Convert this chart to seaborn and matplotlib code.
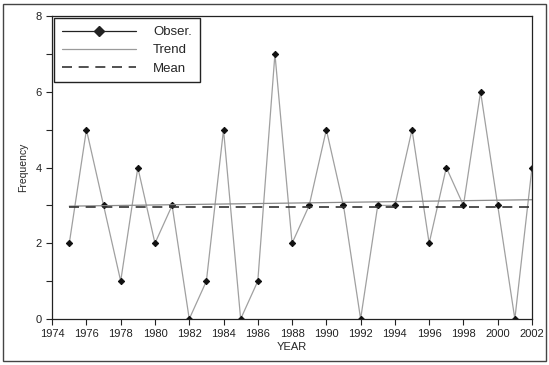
import numpy as np
import pandas as pd
import matplotlib
matplotlib.use("Agg")
import matplotlib.pyplot as plt
import seaborn as sns
from matplotlib.lines import Line2D
from matplotlib.patches import Rectangle

years = list(range(1975, 2003))
freq = [2, 5, 3, 1, 4, 2, 3, 0, 1, 5, 0, 1, 7, 2, 3, 5, 3, 0, 3, 3, 5, 2, 4, 3, 6, 3, 0, 4]
trend_ends = [2.98, 3.15]
mean_value = 2.95

sns.set_style("ticks")
plt.rcParams['font.family'] = ['Liberation Sans', 'DejaVu Sans']

df = pd.DataFrame({"YEAR": years, "Frequency": freq})
line_df = pd.DataFrame({
    "YEAR": [years[0], years[-1]],
    "trend": trend_ends,
    "mean": [mean_value, mean_value],
})

fig = plt.figure(figsize=(5.49, 3.65), dpi=100)
ax = fig.add_axes([0.095, 0.126, 0.874, 0.83])

sns.lineplot(data=df, x="YEAR", y="Frequency", ax=ax, color="#a0a0a0", lw=0.9,
             marker="D", markersize=3.2, markerfacecolor="#111111",
             markeredgecolor="#111111", legend=False)
sns.lineplot(data=line_df, x="YEAR", y="trend", ax=ax, color="#8a8a8a", lw=0.9, legend=False)
sns.lineplot(data=line_df, x="YEAR", y="mean", ax=ax, color="#333333", lw=1.2,
             linestyle=(0, (6, 4)), legend=False)

# legend uses proxies, the obs line is drawn dark there like in the original
handles = [
    Line2D([], [], color="#222222", lw=0.9, marker="D", markersize=5,
           markerfacecolor="#222222", markeredgecolor="#222222"),
    Line2D([], [], color="#9a9a9a", lw=0.9),
    Line2D([], [], color="#333333", lw=1.2, linestyle=(0, (6, 4))),
]
leg = ax.legend(handles, ["Obser.", "Trend", "Mean"], loc="upper left", frameon=True,
                fancybox=False, handlelength=5.6, fontsize=9.5, borderaxespad=0.15,
                borderpad=0.6, labelspacing=0.45, handletextpad=1.3)
leg.get_frame().set_edgecolor("#222222")
leg.get_frame().set_linewidth(1.0)
leg.get_frame().set_alpha(1)

ax.set_xlim(1974, 2002)
ax.set_ylim(0, 8)
ax.set_xticks(range(1974, 2003, 2))
ax.set_yticks([0, 2, 4, 6, 8])
ax.set_yticks(range(0, 9), minor=True)
ax.tick_params(axis="both", labelsize=8, length=4, width=0.8, direction="out", colors="#222222")
ax.tick_params(axis="y", which="minor", length=4, width=0.8)
ax.set_xlabel("YEAR", fontsize=8, labelpad=2)
ax.set_ylabel("Frequency", fontsize=7.5, labelpad=5)
for s in ax.spines.values():
    s.set_visible(True)
    s.set_linewidth(0.9)
    s.set_color("#222222")

# outer frame around the whole chart
fig.patches.append(Rectangle((0.006, 0.01), 0.988, 0.98, transform=fig.transFigure,
                             fill=False, edgecolor="#444444", lw=1.0))

fig.savefig("out.png", dpi=100)
